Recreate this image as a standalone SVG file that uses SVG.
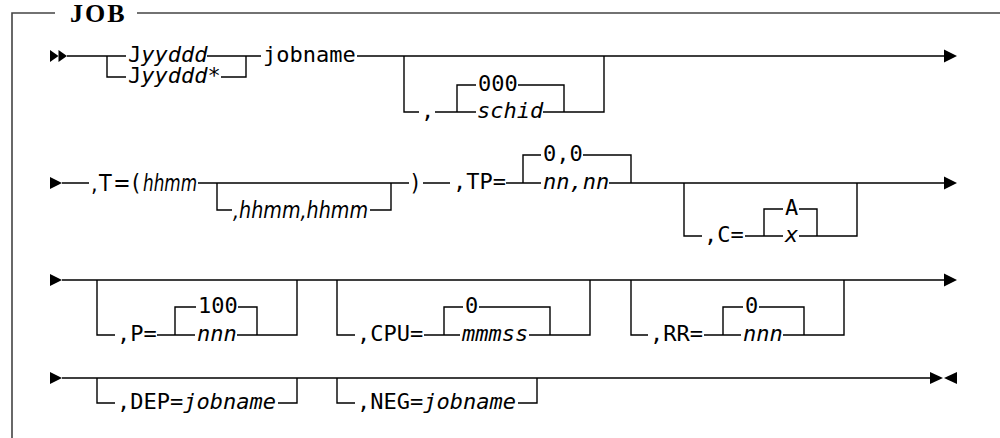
<svg xmlns="http://www.w3.org/2000/svg" width="1000" height="438" viewBox="0 0 1000 438">
<style>
.frame{stroke:#444;stroke-width:1.6;fill:none}
.ln{stroke:#000;stroke-width:1.4;fill:none}
.ar{fill:#000}
.t{font-family:"DejaVu Sans Mono",monospace;font-size:22px;fill:#000}
.c{font-family:"DejaVu Sans","Liberation Sans",sans-serif;font-stretch:condensed;font-size:23px;fill:#000}
.i{font-style:italic}
.title{font-family:"Liberation Serif",serif;font-weight:bold;font-size:26px;fill:#000}
</style>
<rect width="1000" height="438" fill="#fff"/>
<g id="frame">
<path class="frame" d="M55,13H12V438 M137,13H1000"/>
<text class="title" x="70" y="22" letter-spacing="2">JOB</text>
</g>
<g id="connectors">
<path class="ln" d="M67,56H126 M107,56V77H126 M207,56H261 M221,77H246V56 M357,56H944 M404,56V112H419 M435,112H476 M457,112V85H476 M518,85H564V112 M543,112H604V56"/>
<path class="ln" d="M62,183H89 M198,183H409 M217,183V210H232 M370,210H391V183 M423,183H450 M506,183H541 M523,183V155H541 M583,155H631V183 M609,183H944 M684,183V236H702 M745,236H783 M764,236V209H783 M799,209H817V236 M799,236H857V183"/>
<path class="ln" d="M62,280H944 M97,280V335H115 M157,335H195 M175,335V307H196 M238,307H257V335 M237,335H297V280 M337,280V335H355 M424,335H460 M444,335V307H463 M479,307H550V335 M529,335H590V280 M631,280V335H648 M704,335H741 M723,335V307H743 M759,307H804V335 M783,335H844V280"/>
<path class="ln" d="M62,378H930 M97,378V403H115 M278,403H297V378 M337,378V403H355 M518,403H537V378"/>
<polygon class="ar" points="50,50 58.5,56 50,62"/>
<polygon class="ar" points="58.5,50 67,56 58.5,62"/>
<polygon class="ar" points="944,49.5 957,56 944,62.5"/>
<polygon class="ar" points="50,177 62,183 50,189"/>
<polygon class="ar" points="944,176.5 957,183 944,189.5"/>
<polygon class="ar" points="50,274 62,280 50,286"/>
<polygon class="ar" points="944,273.5 957,280 944,286.5"/>
<polygon class="ar" points="50,372 62,378 50,384"/>
<polygon class="ar" points="930,372 943,378 930,384"/>
<polygon class="ar" points="957,372 944,378 957,384"/>
</g>
<g id="row1">
<text class="t" x="128" y="62">J<tspan class="i">yyddd</tspan></text>
<text class="t" x="128" y="83">J<tspan class="i">yyddd</tspan>*</text>
<text class="t" x="263" y="62">jobname</text>
<text class="t" x="421" y="118">,</text>
<text class="t" x="478" y="91">000</text>
<text class="t i" x="477" y="118">schid</text>
</g>
<g id="row2">
<text class="c" x="91" y="191" textLength="49" lengthAdjust="spacing">,T=(</text>
<text class="c i" x="143" y="191" textLength="54" lengthAdjust="spacingAndGlyphs">hhmm</text>
<text class="c i" x="233" y="218" textLength="135" lengthAdjust="spacingAndGlyphs">,hhmm,hhmm</text>
<text class="c" x="411" y="191">)</text>
<text class="t" x="453" y="189">,TP=</text>
<text class="t" x="543" y="161">0,0</text>
<text class="t i" x="543" y="189">nn,nn</text>
<text class="t" x="704" y="242">,C=</text>
<text class="t" x="785" y="215">A</text>
<text class="t i" x="785" y="242">x</text>
</g>
<g id="row3">
<text class="t" x="117" y="341">,P=</text>
<text class="t" x="198" y="313">100</text>
<text class="t i" x="197" y="341">nnn</text>
<text class="t" x="357" y="341">,CPU=</text>
<text class="t" x="465" y="313">0</text>
<text class="t i" x="462" y="341">mmmss</text>
<text class="t" x="650" y="341">,RR=</text>
<text class="t" x="745" y="313">0</text>
<text class="t i" x="743" y="341">nnn</text>
</g>
<g id="row4">
<text class="t" x="117" y="409">,DEP=<tspan class="i">jobname</tspan></text>
<text class="t" x="357" y="409">,NEG=<tspan class="i">jobname</tspan></text>
</g>
</svg>
